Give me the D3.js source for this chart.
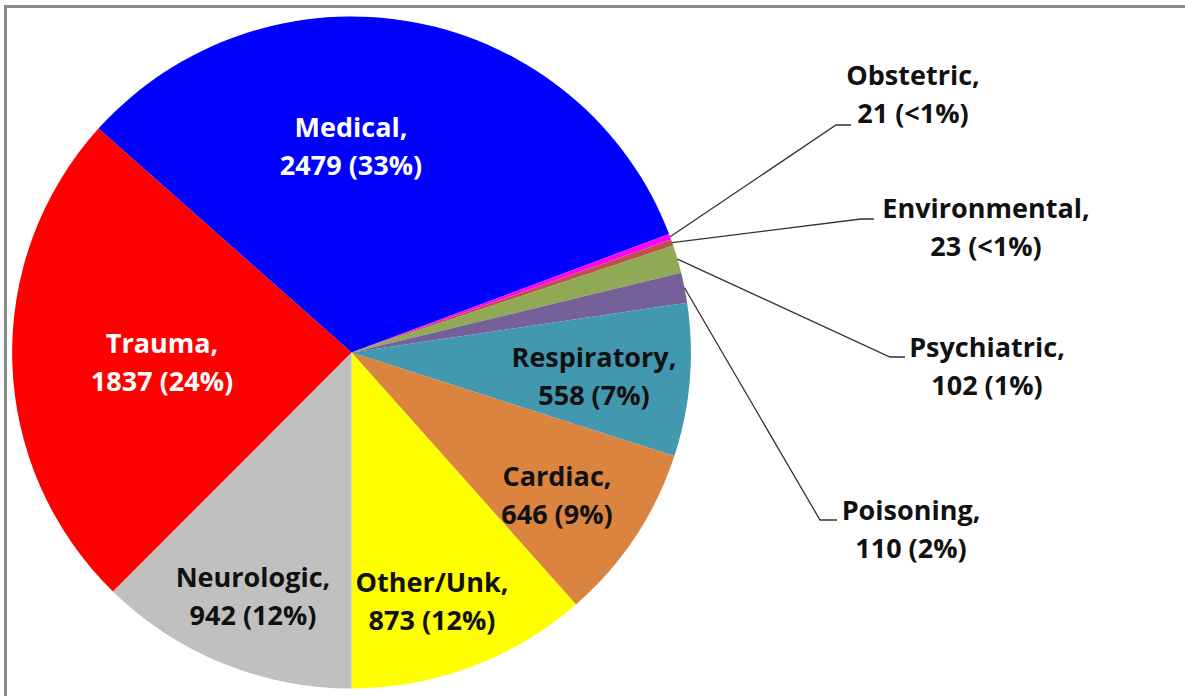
<!DOCTYPE html>
<html><head><meta charset="utf-8">
<script src="https://cdn.jsdelivr.net/npm/d3@7"></script>
<style>
html,body{margin:0;padding:0;background:#fff;}
svg{display:block;}
text{font-family:"Open Sans",sans-serif;font-weight:bold;font-size:27px;}
</style></head>
<body>
<script>
// Data (clockwise order starting with Medical)
const categories = ["Medical","Obstetric","Environmental","Psychiatric","Poisoning","Respiratory","Cardiac","Other/Unk","Neurologic","Trauma"];
const values = [2479,21,23,102,110,558,646,873,942,1837];
const pctLabels = ["33%","<1%","<1%","1%","2%","7%","9%","12%","12%","24%"];
const colors = ["#0000FF","#FF00FF","#C0504D","#8FA955","#76609A","#4198AF","#DA8440","#FFFF00","#C0C0C0","#FF0000"];
const textColors = ["#fff","#111","#111","#111","#111","#111","#111","#111","#111","#fff"];

// Layout (label anchors: center x, first baseline y), leader elbows for outside labels
const W = 1185, H = 696;
const cx = 351.5, cy = 352.5, R = 336, sx = 1.01;
const labelLayout = {
  "Medical":[351,137], "Trauma":[162,353], "Neurologic":[253,587], "Other/Unk":[432,592],
  "Cardiac":[557,486], "Respiratory":[594,367],
  "Obstetric":[913,85], "Environmental":[986,218], "Psychiatric":[987,357], "Poisoning":[911,520]
};
const leaders = {
  "Obstetric":[[836,125],[851,125]],
  "Environmental":[[861,219],[874,219]],
  "Psychiatric":[[890,357],[905,357]],
  "Poisoning":[[820,520],[837,520]]
};
const lineGap = 38;

const svg = d3.select("body").append("svg").attr("width", W).attr("height", H);
svg.append("rect").attr("width",W).attr("height",H).attr("fill","#fff");
// frame
svg.append("path").attr("d",`M5.5,${H+5} V6.5 H${W+5}`).attr("fill","none").attr("stroke","#8a8a8a").attr("stroke-width",3);

const total = d3.sum(values);
const idxNeuro = categories.indexOf("Neurologic");
const before = d3.sum(values.slice(0, idxNeuro));
const start = Math.PI - before / total * 2 * Math.PI;

const pie = d3.pie().sort(null).value(d => d).startAngle(start).endAngle(start + 2*Math.PI);
const arcs = pie(values);
const arc = d3.arc().innerRadius(0).outerRadius(R);
const edgeArc = d3.arc().innerRadius(R).outerRadius(R);

const g = svg.append("g").attr("transform", `translate(${cx},${cy}) scale(${sx},1)`);
g.selectAll("path.slice").data(arcs).join("path").attr("class","slice")
  .attr("d", arc).attr("fill", (d,i) => colors[i]);

// leaders
categories.forEach((c,i) => {
  if (!leaders[c]) return;
  const p = edgeArc.centroid(arcs[i]);
  const pts = [[cx+p[0]*sx, cy+p[1]], ...leaders[c]];
  svg.append("path").attr("d", d3.line()(pts)).attr("fill","none").attr("stroke","#333").attr("stroke-width",1.3);
});

// labels
categories.forEach((c,i) => {
  const [x,y] = labelLayout[c];
  const t = svg.append("text").attr("text-anchor","middle").attr("fill", textColors[i]);
  t.append("tspan").attr("x",x).attr("y",y).text(c + ",");
  t.append("tspan").attr("x",x).attr("y",y+lineGap).text(`${values[i]} (${pctLabels[i]})`);
});
</script>
</body></html>
